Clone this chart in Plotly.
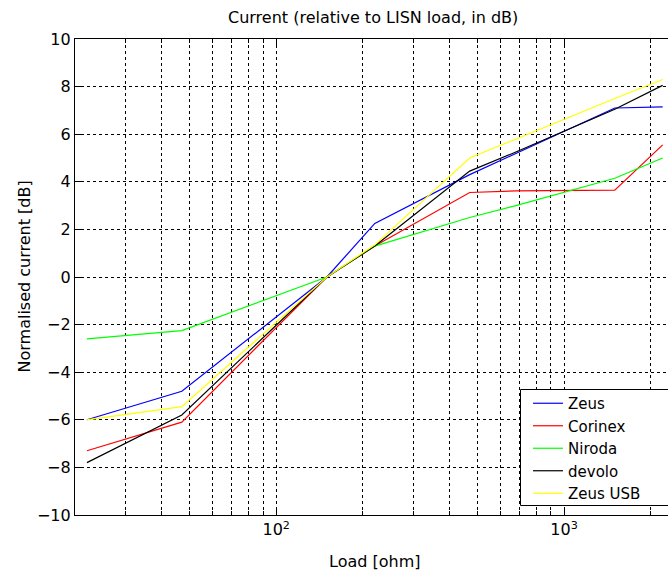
import math
import plotly.graph_objects as go

# ---- data ----
load_ohm = [22, 47, 150, 220, 470, 680, 1500, 2200]
zeus     = [-6.0, -4.8, 0.0, 2.25, 4.3, 5.2, 7.1, 7.15]
corinex  = [-7.3, -6.1, 0.0, 1.3, 3.55, 3.62, 3.65, 5.55]
niroda   = [-2.6, -2.25, 0.0, 1.3, 2.5, 3.0, 4.15, 5.0]
devolo   = [-7.8, -5.8, 0.0, 1.3, 4.45, 5.25, 7.05, 8.05]
zeus_usb = [-6.0, -5.45, 0.0, 1.35, 5.0, 5.8, 7.5, 8.3]

series_names = ["Zeus", "Corinex", "Niroda", "devolo", "Zeus USB"]
series_vals = [zeus, corinex, niroda, devolo, zeus_usb]
series_cols = ["#0000FF", "#FF0000", "#00FF00", "#000000", "#FFFF00"]

x_major = [100, 1000]
x_major_text = ["10<sup>2</sup>", "10<sup>3</sup>"]
y_ticks = list(range(-10, 11, 2))
x_min, x_max = 20, 2296

FONT = "DejaVu Sans, Verdana, sans-serif"
FS = 16

# plot area in pixels
L, R, T, B = 75, 668, 39, 515
PW, PH = R - L, B - T


def px_x(p):
    return (p - L) / PW


def px_y(p):
    return (B - p) / PH


fig = go.Figure()
for name, vals, col in zip(series_names, series_vals, series_cols):
    fig.add_trace(go.Scatter(x=load_ohm, y=vals, mode="lines", name=name,
                             line=dict(color=col, width=1.2)))

minor_vals = [m * 10 ** d for d in (1, 2, 3) for m in range(2, 10)
              if x_min < m * 10 ** d < x_max]

grid = dict(gridcolor="#000000", gridwidth=1, griddash="3px,3px")

fig.update_layout(
    width=668, height=574,
    paper_bgcolor="white", plot_bgcolor="white",
    margin=dict(l=L, r=668 - R, t=T, b=574 - B, autoexpand=False),
    font=dict(family=FONT, size=FS, color="#000000"),
    showlegend=True,
    legend=dict(x=px_x(528), y=px_y(387), xanchor="left", yanchor="top",
                bgcolor="rgba(0,0,0,0)", borderwidth=0,
                font=dict(family=FONT, size=15), tracegroupgap=0),
    xaxis=dict(type="log", range=[math.log10(x_min), math.log10(x_max)],
               tickmode="array", tickvals=x_major, ticktext=x_major_text,
               showgrid=True, **grid,
               showline=True, linecolor="#000000", linewidth=1.3,
               mirror="ticks", ticks="inside", ticklen=6, tickcolor="#000000",
               zeroline=False,
               minor=dict(tickmode="array", tickvals=minor_vals, showgrid=True,
                          gridcolor="#000000", gridwidth=1, griddash="3px,3px",
                          ticks="inside", ticklen=4, tickcolor="#000000"),
               tickfont=dict(family=FONT, size=FS)),
    yaxis=dict(range=[-10, 10], tickmode="array", tickvals=y_ticks,
               showgrid=True, **grid,
               showline=True, linecolor="#000000", linewidth=1.3,
               mirror=False, ticks="inside", ticklen=6, tickcolor="#000000",
               zeroline=False, tickfont=dict(family=FONT, size=FS)),
    shapes=[
        dict(type="rect", xref="paper", yref="paper", layer="above",
             x0=px_x(520.5), x1=px_x(700), y0=px_y(505.5), y1=px_y(389.5),
             fillcolor="white", line=dict(color="#000000", width=1)),
    ],
    annotations=[
        dict(text="Current (relative to LISN load, in dB)", xref="paper", yref="paper",
             x=px_x(373), y=px_y(18), xanchor="center", yanchor="middle",
             showarrow=False, font=dict(family=FONT, size=FS)),
        dict(text="Load [ohm]", xref="paper", yref="paper",
             x=px_x(374.5), y=px_y(561), xanchor="center", yanchor="middle",
             showarrow=False, font=dict(family=FONT, size=FS)),
        dict(text="Normalised current [dB]", xref="paper", yref="paper",
             x=px_x(23.5), y=0.5, xanchor="center", yanchor="middle",
             textangle=-90, showarrow=False, font=dict(family=FONT, size=FS)),
    ],
)

fig.write_html("out.html")
